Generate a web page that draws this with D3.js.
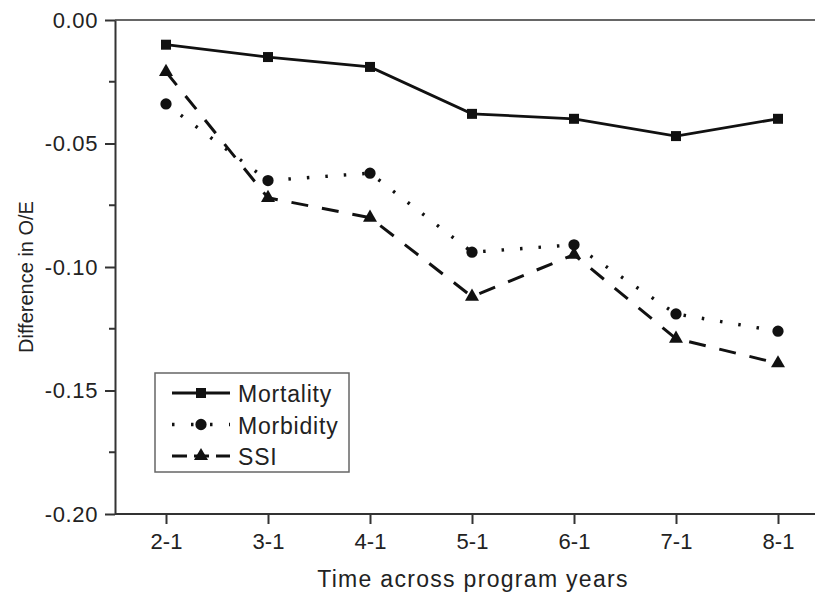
<!DOCTYPE html>
<html>
<head>
<meta charset="utf-8">
<script src="https://cdn.jsdelivr.net/npm/d3@7"></script>
<style>
  html, body { margin: 0; padding: 0; background: #fff; }
  svg { display: block; }
  text { font-family: "Liberation Sans", Arial, sans-serif; fill: #222; }
</style>
</head>
<body>
<svg id="chart" width="815" height="593"></svg>
<script>
// Observed/expected change relative to program year 1
const periods = ["2-1", "3-1", "4-1", "5-1", "6-1", "7-1", "8-1"];
const mortality = [-0.010, -0.015, -0.019, -0.038, -0.040, -0.047, -0.040];
const morbidity = [-0.034, -0.065, -0.062, -0.094, -0.091, -0.119, -0.126];
const ssi = [-0.021, -0.072, -0.080, -0.112, -0.095, -0.129, -0.139];
const yTicks = [0, -0.05, -0.10, -0.15, -0.20];
const yMinorTicks = [-0.025, -0.075, -0.125, -0.175];

const series = [
  { name: "Mortality", values: mortality, dash: null, legendDash: null, width: 2.8, symbol: d3.symbolSquare, size: 100 },
  { name: "Morbidity", values: morbidity, dash: "2.5,16", legendDash: "2.5,16.5", width: 3.4, symbol: d3.symbolCircle, size: 100 },
  { name: "SSI", values: ssi, dash: "17,14", legendDash: "15,7", width: 3, symbol: d3.symbolTriangle, size: 85 }
];

const svg = d3.select("#chart");
const plotLeft = 115, plotTop = 20, plotBottom = 514;
const fontFamily = '"Liberation Sans", Arial, sans-serif';

const x = d3.scalePoint().domain(periods).range([166, 778]);
const step = x.step();
const y = d3.scaleLinear().domain([-0.20, 0]).range([plotBottom, plotTop]);

const axisColor = "#333";

// top frame line
svg.append("line")
  .attr("x1", plotLeft).attr("x2", 815)
  .attr("y1", plotTop).attr("y2", plotTop)
  .attr("stroke", "#666").attr("stroke-width", 2);

// y axis (hyphen-minus labels)
const fmt = d => d3.format(".2f")(d).replace("\u2212", "-");
const yAxis = svg.append("g").attr("transform", `translate(${plotLeft},0)`)
  .call(d3.axisLeft(y).tickValues(yTicks).tickFormat(fmt).tickSize(10).tickSizeOuter(0));
yAxis.select(".domain").attr("stroke", axisColor).attr("stroke-width", 2);
yAxis.selectAll(".tick line").attr("stroke", axisColor).attr("stroke-width", 2);
yAxis.selectAll(".tick text").attr("font-size", 22).attr("x", -17)
  .attr("letter-spacing", 0.6)
  .style("font-family", fontFamily).attr("fill", "#222");
yAxis.selectAll(".minor").data(yMinorTicks).enter().append("line")
  .attr("x1", -6).attr("x2", 0)
  .attr("y1", d => y(d)).attr("y2", d => y(d))
  .attr("stroke", axisColor).attr("stroke-width", 2);

// x axis
const xAxis = svg.append("g").attr("transform", `translate(0,${plotBottom})`)
  .call(d3.axisBottom(x).tickSize(10).tickSizeOuter(0));
xAxis.select(".domain").attr("d", `M${plotLeft},0H${778 + step / 2}`)
  .attr("stroke", axisColor).attr("stroke-width", 2);
xAxis.selectAll(".tick line").attr("stroke", axisColor).attr("stroke-width", 2);
xAxis.selectAll(".tick text").attr("font-size", 22).attr("y", 19)
  .style("font-family", fontFamily).attr("fill", "#222");

// axis titles
svg.append("text").attr("x", 473).attr("y", 587)
  .attr("text-anchor", "middle").attr("font-size", 23).attr("letter-spacing", 1.3)
  .text("Time across program years");
svg.append("text")
  .attr("transform", "translate(33,277) rotate(-90)")
  .attr("text-anchor", "middle").attr("font-size", 20)
  .text("Difference in O/E");

// series lines and markers
const line = d3.line().x((d, i) => x(periods[i])).y(d => y(d));
series.forEach(s => {
  svg.append("path")
    .attr("d", line(s.values))
    .attr("fill", "none").attr("stroke", "#111")
    .attr("stroke-width", s.width)
    .attr("stroke-dasharray", s.dash);
  svg.selectAll(null).data(s.values).enter().append("path")
    .attr("transform", (d, i) => `translate(${x(periods[i])},${y(d)})`)
    .attr("d", d3.symbol().type(s.symbol).size(s.size))
    .attr("fill", "#111");
});

// legend
const lg = svg.append("g");
lg.append("rect").attr("x", 155).attr("y", 373).attr("width", 194).attr("height", 99)
  .attr("fill", "#fff").attr("stroke", "#666").attr("stroke-width", 1.5);
series.forEach((s, i) => {
  const cy = 393 + i * 31.5;
  lg.append("line").attr("x1", 172).attr("x2", 230).attr("y1", cy).attr("y2", cy)
    .attr("stroke", "#111").attr("stroke-width", s.width)
    .attr("stroke-dasharray", s.legendDash);
  lg.append("path").attr("transform", `translate(201,${cy})`)
    .attr("d", d3.symbol().type(s.symbol).size(s.size)).attr("fill", "#111");
  lg.append("text").attr("x", 238).attr("y", cy + 9).attr("font-size", 23)
    .attr("letter-spacing", 0.8).text(s.name);
});
</script>
</body>
</html>
